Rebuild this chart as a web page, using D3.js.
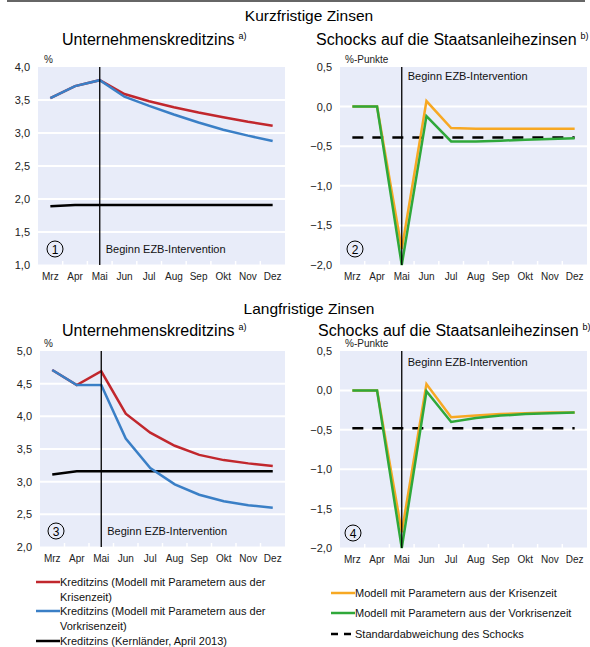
<!DOCTYPE html>
<html><head><meta charset="utf-8">
<script src="https://cdn.jsdelivr.net/npm/d3@7"></script>
<style>
body{margin:0;background:#fff;}
svg{font-family:"Liberation Sans",Arial,sans-serif;}
</style></head>
<body>
<svg id="c" width="590" height="647"></svg>
<script>
const months = ["Mrz","Apr","Mai","Jun","Jul","Aug","Sep","Okt","Nov","Dez"];
const interventionMonth = "Mai";

// Panel 1: Kurzfristig, Unternehmenskreditzins
const p1Ticks = [1.0,1.5,2.0,2.5,3.0,3.5,4.0];
const p1Krise = [3.53,3.71,3.80,3.59,3.48,3.39,3.31,3.24,3.17,3.11];
const p1Vorkrise = [3.53,3.71,3.80,3.55,3.41,3.28,3.16,3.05,2.96,2.88];
const p1Kern = [1.89,1.91,1.91,1.91,1.91,1.91,1.91,1.91,1.91,1.91];

// Panel 2: Kurzfristig, Schocks
const p2Ticks = [-2.0,-1.5,-1.0,-0.5,0.0,0.5];
const p2Krise = [0,0,-1.80,0.07,-0.27,-0.28,-0.28,-0.28,-0.28,-0.28];
const p2Vorkrise = [0,0,-2.00,-0.12,-0.44,-0.44,-0.43,-0.42,-0.41,-0.40];
const p2StdAbw = -0.39;

// Panel 3: Langfristig, Unternehmenskreditzins
const p3Ticks = [2.0,2.5,3.0,3.5,4.0,4.5,5.0];
const p3Krise = [4.71,4.48,4.69,4.04,3.75,3.55,3.41,3.33,3.28,3.24];
const p3Vorkrise = [4.71,4.48,4.48,3.66,3.21,2.96,2.80,2.70,2.64,2.60];
const p3Kern = [3.11,3.16,3.16,3.16,3.16,3.16,3.16,3.16,3.16,3.16];

// Panel 4: Langfristig, Schocks
const p4Ticks = [-2.0,-1.5,-1.0,-0.5,0.0,0.5];
const p4Krise = [0,0,-1.80,0.08,-0.34,-0.32,-0.30,-0.29,-0.28,-0.28];
const p4Vorkrise = [0,0,-2.00,-0.01,-0.40,-0.35,-0.32,-0.30,-0.29,-0.28];
const p4StdAbw = -0.48;

const legendLeft = ["Kreditzins (Modell mit Parametern aus der|Krisenzeit)","Kreditzins (Modell mit Parametern aus der|Vorkrisenzeit)","Kreditzins (Kernländer, April 2013)"];
const legendRight = ["Modell mit Parametern aus der Krisenzeit","Modell mit Parametern aus der Vorkrisenzeit","Standardabweichung des Schocks"];

const C = {red:"#c1272d", blue:"#3a7fc6", black:"#000", orange:"#f7a823", green:"#2fa83a", bg:"#e8ecf9"};

const svg = d3.select("#c");
svg.append("line").attr("x1",7).attr("x2",585).attr("y1",1).attr("y2",1).attr("stroke","#666").attr("stroke-width",2);

function title(t,x,y){ svg.append("text").attr("x",x).attr("y",y).attr("text-anchor","middle").attr("font-size",15.5).attr("fill","#000").text(t); }
function subtitle(t,sup,x,y){
  const tx = svg.append("text").attr("x",x).attr("y",y).attr("font-size",16).attr("fill","#000");
  tx.append("tspan").text(t);
  tx.append("tspan").attr("font-size",9).attr("dy",-6).attr("dx",4).text(sup);
}
title("Kurzfristige Zinsen",309,21);
title("Langfristige Zinsen",309,314);
subtitle("Unternehmenskreditzins","a)",62,45);
subtitle("Schocks auf die Staatsanleihezinsen","b)",316,45);
subtitle("Unternehmenskreditzins","a)",62,336);
subtitle("Schocks auf die Staatsanleihezinsen","b)",318,336);

function panel(o){
  const g = svg.append("g");
  const x = d3.scaleBand().domain(months).range([o.x0,o.x1]);
  const y = d3.scaleLinear().domain(d3.extent(o.ticks)).range([o.y1,o.y0]);
  g.append("rect").attr("x",o.x0).attr("y",o.y0).attr("width",o.x1-o.x0).attr("height",o.y1-o.y0).attr("fill",C.bg);
  g.selectAll(".gl").data(o.ticks.slice(1,-1)).enter().append("line")
    .attr("x1",o.x0).attr("x2",o.x1).attr("y1",d=>y(d)).attr("y2",d=>y(d)).attr("stroke","#fff").attr("stroke-width",2);
  const ya = d3.axisLeft(y).tickValues(o.ticks).tickSize(0).tickPadding(8).tickFormat(d=>d3.format(".1f")(d).replace(".",","));
  const yg = g.append("g").attr("transform",`translate(${o.x0},0)`).call(ya);
  yg.select(".domain").remove();
  yg.selectAll("text").attr("font-size",11).attr("fill","#222").attr("font-family","Liberation Sans, Arial, sans-serif");
  const xa = d3.axisBottom(x).tickSize(0).tickPadding(8);
  const xg = g.append("g").attr("transform",`translate(0,${o.y1})`).call(xa);
  xg.select(".domain").remove();
  xg.selectAll("text").attr("font-size",10).attr("fill","#222").attr("font-family","Liberation Sans, Arial, sans-serif");
  g.selectAll(".bt").data(months.slice(1)).enter().append("line")
    .attr("x1",d=>x(d)).attr("x2",d=>x(d)).attr("y1",o.y1).attr("y2",o.y1-4).attr("stroke","#fff").attr("stroke-width",1.5);
  g.append("line").attr("x1",o.x0).attr("x2",o.x1).attr("y1",o.y1).attr("y2",o.y1).attr("stroke","#fff").attr("stroke-width",1);
  g.append("text").attr("x",o.x0+o.unitDx).attr("y",o.y0-4).attr("font-size",10).attr("fill","#222").text(o.unit);
  const cx = m => x(m)+x.bandwidth()/2;
  if(o.std!==undefined){
    g.append("line").attr("x1",cx(months[0])).attr("x2",cx(months[months.length-1])).attr("y1",y(o.std)).attr("y2",y(o.std))
      .attr("stroke","#000").attr("stroke-width",2.5).attr("stroke-dasharray","11,9");
  }
  const line = d3.line().x((d,i)=>cx(months[i])).y(d=>y(d));
  o.series.forEach(s=>{
    g.append("path").datum(s.v).attr("d",line).attr("fill","none").attr("stroke",s.c).attr("stroke-width",2.5).attr("stroke-linejoin","miter");
  });
  g.append("line").attr("x1",cx(interventionMonth)).attr("x2",cx(interventionMonth)).attr("y1",o.y0).attr("y2",o.y1).attr("stroke","#000").attr("stroke-width",1.3);
  g.append("text").attr("x",cx(interventionMonth)+6).attr("y",o.labelY).attr("font-size",11).attr("fill","#111").text("Beginn EZB-Intervention");
  g.append("circle").attr("cx",o.x0+o.numDx).attr("cy",o.numY).attr("r",8).attr("fill","none").attr("stroke","#000").attr("stroke-width",1);
  g.append("text").attr("x",o.x0+o.numDx).attr("y",o.numY+4.5).attr("text-anchor","middle").attr("font-size",12).text(o.num);
}

panel({x0:38,x1:285,y0:67,y1:265,ticks:p1Ticks,unit:"%",unitDx:6,
  series:[{v:p1Kern,c:C.black},{v:p1Krise,c:C.red},{v:p1Vorkrise,c:C.blue}],
  labelY:253,num:"1",numDx:17,numY:249});
panel({x0:340,x1:587,y0:67,y1:265,ticks:p2Ticks,unit:"%-Punkte",unitDx:5,std:p2StdAbw,
  series:[{v:p2Krise,c:C.orange},{v:p2Vorkrise,c:C.green}],
  labelY:80,num:"2",numDx:15,numY:249});
panel({x0:40,x1:285,y0:351,y1:547,ticks:p3Ticks,unit:"%",unitDx:4,
  series:[{v:p3Kern,c:C.black},{v:p3Krise,c:C.red},{v:p3Vorkrise,c:C.blue}],
  labelY:535,num:"3",numDx:16,numY:531});
panel({x0:340,x1:587,y0:351,y1:548,ticks:p4Ticks,unit:"%-Punkte",unitDx:5,std:p4StdAbw,
  series:[{v:p4Krise,c:C.orange},{v:p4Vorkrise,c:C.green}],
  labelY:366,num:"4",numDx:13,numY:533});

function legend(items,colors,dashes,x,ys){
  items.forEach((t,i)=>{
    const lines = t.split("|");
    svg.append("line").attr("x1",x).attr("x2",x+24).attr("y1",ys[i]).attr("y2",ys[i]).attr("stroke",colors[i]).attr("stroke-width",2.5)
      .attr("stroke-dasharray",dashes[i]?"7,6":null);
    lines.forEach((l,j)=>{
      svg.append("text").attr("x",x+24).attr("y",ys[i]+4+j*15).attr("font-size",11).attr("fill","#111").text(l);
    });
  });
}
legend(legendLeft,[C.red,C.blue,C.black],[0,0,0],36,[582,611,641]);
legend(legendRight,[C.orange,C.green,"#000"],[0,0,1],331,[593,613,634]);
</script>
</body></html>
